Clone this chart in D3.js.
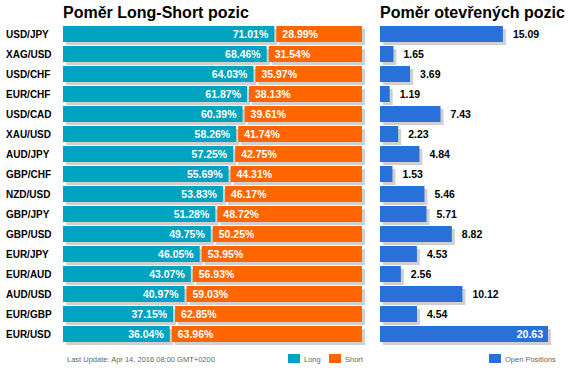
<!DOCTYPE html>
<html>
<head>
<meta charset="utf-8">
<script src="https://cdn.jsdelivr.net/npm/d3@7"></script>
<style>
  html, body { margin: 0; padding: 0; background: #fff; }
  svg { display: block; font-family: Arial, "Liberation Sans", sans-serif; }
</style>
</head>
<body>
<div id="chart"></div>
<script>
// Данные графика.
const pairs = [
  "USD/JPY", "XAG/USD", "USD/CHF", "EUR/CHF", "USD/CAD", "XAU/USD",
  "AUD/JPY", "GBP/CHF", "NZD/USD", "GBP/JPY", "GBP/USD", "EUR/JPY",
  "EUR/AUD", "AUD/USD", "EUR/GBP", "EUR/USD",
];
const longValues = [
  71.01, 68.46, 64.03, 61.87, 60.39, 58.26, 57.25, 55.69,
  53.83, 51.28, 49.75, 46.05, 43.07, 40.97, 37.15, 36.04,
];
const shortValues = [
  28.99, 31.54, 35.97, 38.13, 39.61, 41.74, 42.75, 44.31,
  46.17, 48.72, 50.25, 53.95, 56.93, 59.03, 62.85, 63.96,
];
const openValues = [
  15.09, 1.65, 3.69, 1.19, 7.43, 2.23, 4.84, 1.53,
  5.46, 5.71, 8.82, 4.53, 2.56, 10.12, 4.54, 20.63,
];
const leftTitle = "Poměr Long-Short pozic";
const rightTitle = "Poměr otevřených pozic";
const updateText = "Last Update: Apr 14, 2016 08:00 GMT+0200";
const legendLeft = ["Long", "Short"];
const legendRight = ["Open Positions"];

function drawChart() {
  const width = 573;
  const height = 370;
  const colors = { long: "#00a4c0", short: "#ff6600", open: "#2a70d9", shadow: "#d0d0d0" };
  const shadowOffset = 3;

  const svg = d3
    .select("#chart")
    .append("svg")
    .attr("width", width)
    .attr("height", height)
    .attr("viewBox", `0 0 ${width} ${height}`);

  const rows = pairs.map((p, i) => ({
    pair: p,
    long: longValues[i],
    short: shortValues[i],
    open: openValues[i],
  }));

  // Шкала строк: шаг 20px, высота бара 16px.
  const yScale = d3
    .scaleBand()
    .domain(pairs)
    .range([24, 344])
    .paddingInner(0.2)
    .paddingOuter(0.1);

  const xLeft = d3.scaleLinear().domain([0, 100]).range([63, 362]);
  const xRight = d3
    .scaleLinear()
    .domain([0, d3.max(openValues)])
    .range([380, 548]);

  // Заголовки.
  svg
    .append("text")
    .attr("x", 63)
    .attr("y", 18)
    .attr("font-size", "16px")
    .attr("font-weight", "bold")
    .attr("fill", "#000")
    .text(leftTitle);

  svg
    .append("text")
    .attr("x", 380)
    .attr("y", 18)
    .attr("font-size", "16px")
    .attr("font-weight", "bold")
    .attr("fill", "#000")
    .text(rightTitle);

  // Подписи пар слева.
  svg
    .append("g")
    .selectAll("text")
    .data(rows)
    .join("text")
    .attr("x", 6)
    .attr("y", (d) => yScale(d.pair) + yScale.bandwidth() / 2)
    .attr("dy", "0.36em")
    .attr("font-size", "10px")
    .attr("font-weight", "bold")
    .attr("fill", "#000")
    .text((d) => d.pair);

  const leftGroup = svg.append("g").attr("class", "long-short");

  // Сегменты: long от 0 до значения, short от значения до 100.
  const segments = [];
  rows.forEach((d) => {
    segments.push({ pair: d.pair, x0: xLeft(0), x1: xLeft(d.long) - 1, color: colors.long });
    segments.push({ pair: d.pair, x0: xLeft(d.long) + 1, x1: xLeft(100), color: colors.short });
  });

  leftGroup
    .selectAll(".shadow")
    .data(segments)
    .join("rect")
    .attr("class", "shadow")
    .attr("x", (d) => d.x0 + shadowOffset)
    .attr("y", (d) => yScale(d.pair) + shadowOffset)
    .attr("width", (d) => d.x1 - d.x0)
    .attr("height", yScale.bandwidth())
    .attr("fill", colors.shadow);

  leftGroup
    .selectAll(".bar")
    .data(segments)
    .join("rect")
    .attr("class", "bar")
    .attr("x", (d) => d.x0)
    .attr("y", (d) => yScale(d.pair))
    .attr("width", (d) => d.x1 - d.x0)
    .attr("height", yScale.bandwidth())
    .attr("fill", (d) => d.color);

  leftGroup
    .selectAll(".long-label")
    .data(rows)
    .join("text")
    .attr("class", "long-label")
    .attr("x", (d) => xLeft(d.long) - 7)
    .attr("y", (d) => yScale(d.pair) + yScale.bandwidth() / 2)
    .attr("dy", "0.36em")
    .attr("text-anchor", "end")
    .attr("font-size", "10.5px")
    .attr("font-weight", "bold")
    .attr("fill", "#fff")
    .text((d) => d.long.toFixed(2) + "%");

  leftGroup
    .selectAll(".short-label")
    .data(rows)
    .join("text")
    .attr("class", "short-label")
    .attr("x", (d) => xLeft(d.long) + 7)
    .attr("y", (d) => yScale(d.pair) + yScale.bandwidth() / 2)
    .attr("dy", "0.36em")
    .attr("font-size", "10.5px")
    .attr("font-weight", "bold")
    .attr("fill", "#fff")
    .text((d) => d.short.toFixed(2) + "%");

  // Правая панель - открытые позиции.
  const rightGroup = svg.append("g").attr("class", "open-positions");
  const maxOpen = d3.max(openValues);

  rightGroup
    .selectAll(".shadow")
    .data(rows)
    .join("rect")
    .attr("class", "shadow")
    .attr("x", xRight(0) + shadowOffset)
    .attr("y", (d) => yScale(d.pair) + shadowOffset)
    .attr("width", (d) => xRight(d.open) - xRight(0))
    .attr("height", yScale.bandwidth())
    .attr("fill", colors.shadow);

  rightGroup
    .selectAll(".bar")
    .data(rows)
    .join("rect")
    .attr("class", "bar")
    .attr("x", xRight(0))
    .attr("y", (d) => yScale(d.pair))
    .attr("width", (d) => xRight(d.open) - xRight(0))
    .attr("height", yScale.bandwidth())
    .attr("fill", colors.open);

  // Максимальное значение подписываем внутри бара.
  rightGroup
    .selectAll(".value")
    .data(rows)
    .join("text")
    .attr("class", "value")
    .attr("x", (d) => (d.open === maxOpen ? xRight(d.open) - 5 : xRight(d.open) + 10))
    .attr("y", (d) => yScale(d.pair) + yScale.bandwidth() / 2)
    .attr("dy", "0.36em")
    .attr("text-anchor", (d) => (d.open === maxOpen ? "end" : "start"))
    .attr("font-size", "10.5px")
    .attr("font-weight", "bold")
    .attr("fill", (d) => (d.open === maxOpen ? "#fff" : "#000"))
    .text((d) => d.open.toFixed(2));

  // Подвал: дата обновления и легенды.
  svg
    .append("text")
    .attr("x", 67)
    .attr("y", 362)
    .attr("font-size", "7.5px")
    .attr("fill", "#666")
    .text(updateText);

  const legendItems = [
    { label: legendLeft[0], color: colors.long, x: 288 },
    { label: legendLeft[1], color: colors.short, x: 329 },
    { label: legendRight[0], color: colors.open, x: 489 },
  ];

  const legend = svg
    .append("g")
    .selectAll("g")
    .data(legendItems)
    .join("g")
    .attr("transform", (d) => `translate(${d.x}, 354)`);

  legend
    .append("rect")
    .attr("width", 12)
    .attr("height", 9)
    .attr("fill", (d) => d.color);

  legend
    .append("text")
    .attr("x", 16)
    .attr("y", 8)
    .attr("font-size", "7.5px")
    .attr("fill", "#666")
    .text((d) => d.label);
}

document.addEventListener("DOMContentLoaded", drawChart);
</script>
</body>
</html>
